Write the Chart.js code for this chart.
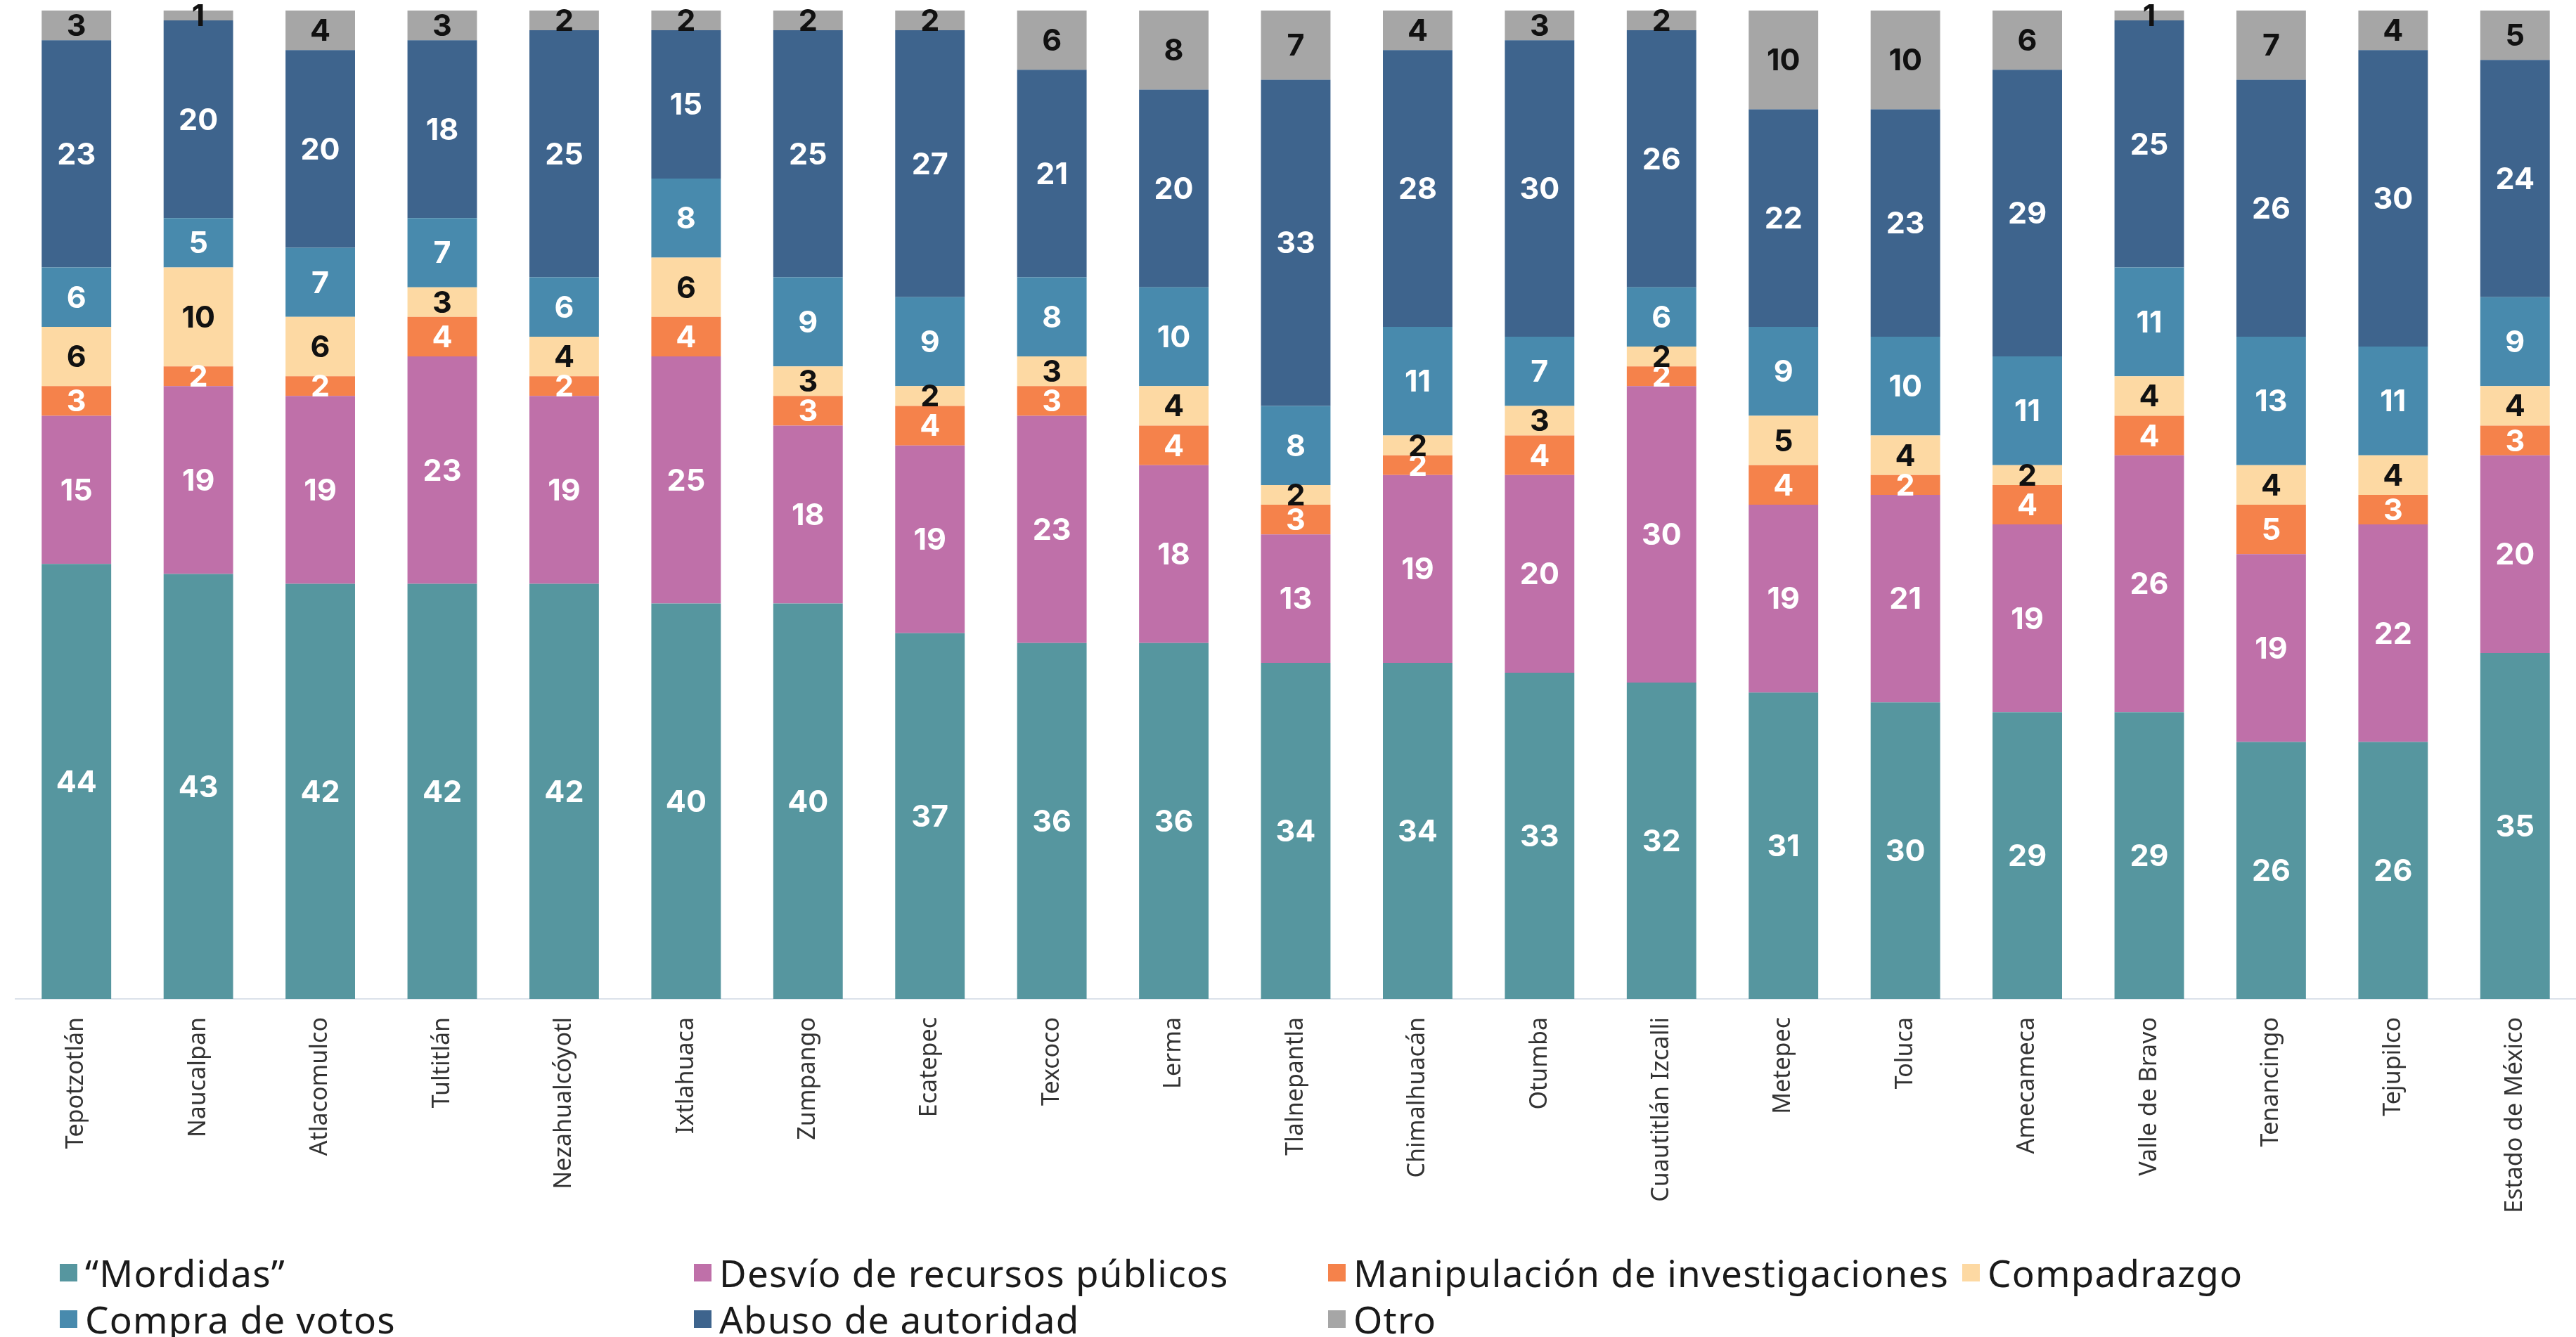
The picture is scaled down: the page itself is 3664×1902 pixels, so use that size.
<!DOCTYPE html>
<html lang="es">
<head>
<meta charset="utf-8">
<script src="https://cdn.jsdelivr.net/npm/chart.js@4"></script>
<style>
  html, body { margin: 0; padding: 0; background: #fff; overflow: hidden; }
  #wrap { position: relative; width: 3664px; height: 1902px; }
  #chart { position: absolute; left: 0; top: 0; }
  #legend {
    position: absolute; left: 85px; top: 1777px;
    display: grid; grid-template-columns: repeat(4, 902px); grid-auto-rows: 66px;
    font-family: "Noto Sans", sans-serif; font-size: 53px; letter-spacing: 1.2px; color: #1a1a1a;
  }
  .item { display: flex; align-items: center; white-space: nowrap; }
  .box { width: 25px; height: 25px; margin-right: 11px; flex: none; }
</style>
</head>
<body>
<div id="wrap">
  <canvas id="chart" width="3664" height="1902"></canvas>
  <div id="legend"></div>
</div>
<script>
// Tipos de corrupción por municipio (%)
const municipios = ['Tepotzotlán', 'Naucalpan', 'Atlacomulco', 'Tultitlán', 'Nezahualcóyotl', 'Ixtlahuaca',
  'Zumpango', 'Ecatepec', 'Texcoco', 'Lerma', 'Tlalnepantla', 'Chimalhuacán', 'Otumba', 'Cuautitlán Izcalli',
  'Metepec', 'Toluca', 'Amecameca', 'Valle de Bravo', 'Tenancingo', 'Tejupilco', 'Estado de México'];

const mordidas     = [44, 43, 42, 42, 42, 40, 40, 37, 36, 36, 34, 34, 33, 32, 31, 30, 29, 29, 26, 26, 35];
const desvio       = [15, 19, 19, 23, 19, 25, 18, 19, 23, 18, 13, 19, 20, 30, 19, 21, 19, 26, 19, 22, 20];
const manipulacion = [3, 2, 2, 4, 2, 4, 3, 4, 3, 4, 3, 2, 4, 2, 4, 2, 4, 4, 5, 3, 3];
const compadrazgo  = [6, 10, 6, 3, 4, 6, 3, 2, 3, 4, 2, 2, 3, 2, 5, 4, 2, 4, 4, 4, 4];
const compraVotos  = [6, 5, 7, 7, 6, 8, 9, 9, 8, 10, 8, 11, 7, 6, 9, 10, 11, 11, 13, 11, 9];
const abuso        = [23, 20, 20, 18, 25, 15, 25, 27, 21, 20, 33, 28, 30, 26, 22, 23, 29, 25, 26, 30, 24];
const otro         = [3, 1, 4, 3, 2, 2, 2, 2, 6, 8, 7, 4, 3, 2, 10, 10, 6, 1, 7, 4, 5];

const colors = {
  mordidas: '#56969f',
  desvio: '#bf70a9',
  manipulacion: '#f5824b',
  compadrazgo: '#fdd9a3',
  compra: '#488aad',
  abuso: '#3e648d',
  otro: '#a6a6a6'
};

const series = [
  { label: '\u201cMordidas\u201d', data: mordidas, color: colors.mordidas, text: '#ffffff' },
  { label: 'Desvío de recursos públicos', data: desvio, color: colors.desvio, text: '#ffffff' },
  { label: 'Manipulación de investigaciones', data: manipulacion, color: colors.manipulacion, text: '#ffffff' },
  { label: 'Compadrazgo', data: compadrazgo, color: colors.compadrazgo, text: '#111111' },
  { label: 'Compra de votos', data: compraVotos, color: colors.compra, text: '#ffffff' },
  { label: 'Abuso de autoridad', data: abuso, color: colors.abuso, text: '#ffffff' },
  { label: 'Otro', data: otro, color: colors.otro, text: '#111111' }
];

// etiquetas dentro de cada segmento
const segmentLabels = {
  id: 'segmentLabels',
  afterDatasetsDraw(chart) {
    const ctx = chart.ctx;
    ctx.save();
    ctx.font = '700 43px Inter, "Noto Sans", sans-serif';
    ctx.textAlign = 'center';
    ctx.textBaseline = 'middle';
    chart.data.datasets.forEach((ds, i) => {
      const meta = chart.getDatasetMeta(i);
      ctx.fillStyle = series[i].text;
      meta.data.forEach((bar, j) => {
        const y = (bar.y + bar.base) / 2;
        ctx.fillText(String(ds.data[j]), bar.x, y + 2);
      });
    });
    ctx.restore();
  }
};

const chart = new Chart(document.getElementById('chart'), {
  type: 'bar',
  data: {
    labels: municipios,
    datasets: series.map(s => ({
      label: s.label,
      data: s.data,
      backgroundColor: s.color,
      borderWidth: 0,
      barPercentage: 0.57,
      categoryPercentage: 1
    }))
  },
  options: {
    responsive: false,
    animation: false,
    layout: { padding: { left: 22, top: 15, right: 0, bottom: 0 } },
    plugins: {
      legend: { display: false },
      tooltip: { enabled: false }
    },
    scales: {
      x: {
        stacked: true,
        grid: { display: false },
        border: { display: true, color: '#dbe2ea', width: 2 },
        ticks: {
          minRotation: 90,
          maxRotation: 90,
          padding: 18,
          color: '#333333',
          font: { family: '"Noto Sans", sans-serif', size: 34 }
        },
        afterFit(scale) { scale.height = 1902 - 1421; }
      },
      y: {
        stacked: true,
        display: false,
        min: 0,
        max: 100
      }
    }
  },
  plugins: [segmentLabels]
});

// leyenda en rejilla
const legend = document.getElementById('legend');
series.forEach(s => {
  const item = document.createElement('div');
  item.className = 'item';
  const box = document.createElement('span');
  box.className = 'box';
  box.style.background = s.color;
  item.appendChild(box);
  item.appendChild(document.createTextNode(s.label));
  legend.appendChild(item);
});
</script>
</body>
</html>
